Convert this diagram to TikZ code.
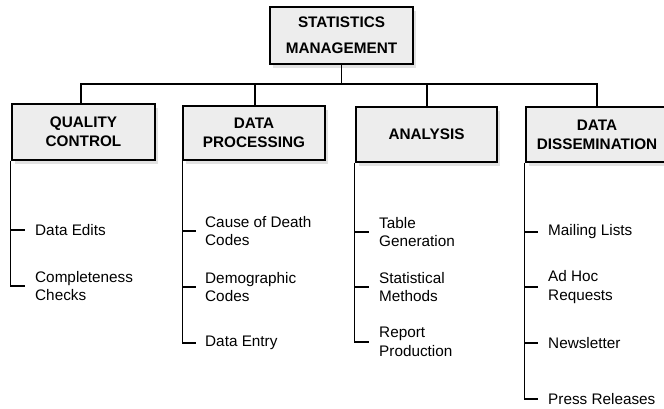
\documentclass[tikz,border=0pt]{standalone}
\usepackage{fontspec}
\setmainfont{Liberation Sans}
\usetikzlibrary{shadows}
\begin{document}
\begin{tikzpicture}[x=1pt,y=-1pt,
  unit/.style={draw=black, line width=1.3pt, fill=black!7,
    font=\bfseries\fontsize{15.3}{19}\selectfont, align=center,
    inner sep=0pt,
    drop shadow={shadow xshift=3pt, shadow yshift=-4pt, fill=black!14, opacity=0.8}},
  item/.style={anchor=west, align=left, inner sep=0pt,
    font=\fontsize{15.3}{18.5}\selectfont},
  link/.style={line width=1.2pt},
  tick/.style={line width=1.1pt}]
\useasboundingbox (0,0) rectangle (664,408);

% head office
\node[unit, minimum width=143pt, minimum height=57pt,
  font=\bfseries\fontsize{15.3}{26}\selectfont] (top) at (341.5,35.5) {\raisebox{-2pt}{STATISTICS}\\\raisebox{-2pt}{MANAGEMENT}};

% divisions
\node[unit, minimum width=143pt, minimum height=56pt] (qc) at (83.5,132) {QUALITY\\CONTROL};
\node[unit, minimum width=142pt, minimum height=54pt] (dp) at (254,133) {DATA\\PROCESSING};
\node[unit, minimum width=141pt, minimum height=55pt] (an) at (426.5,134.5) {ANALYSIS};
\node[unit, minimum width=142pt, minimum height=55pt] (dd) at (597,134.5) {DATA\\DISSEMINATION};

% bus line joining the divisions to the head office
\coordinate (bus) at (341.5,84);
\draw[link] (top.south) -- (bus);
\draw[link] ([xshift=-2.5pt]qc.north) -- ([xshift=-2.5pt]qc.north |- bus) -| (dd.north);
\draw[link] ([xshift=1pt]dp.north) -- ([xshift=1pt]dp.north |- bus);
\draw[link] ([xshift=0.5pt]an.north) -- ([xshift=0.5pt]an.north |- bus);

% tasks of each division
\node[item] (qc1) at (35,230) {Data Edits};
\node[item] (qc2) at (35,286) {Completeness\\Checks};

\node[item] (dp1) at (205,231) {Cause of Death\\Codes};
\node[item] (dp2) at (205,287) {Demographic\\Codes};
\node[item] (dp3) at (205,343) {Data Entry};

\node[item] (an1) at (379,232) {Table\\Generation};
\node[item] (an2) at (379,287) {Statistical\\Methods};
\node[item] (an3) at (379,342) {Report\\Production};

\node[item] (dd1) at (548,232) {Mailing Lists};
\node[item] (dd2) at (548,287) {Ad Hoc\\Requests};
\node[item] (dd3) at (548,343) {Newsletter};
\node[item] (dd4) at (548,399) {Press Releases};

% side rails with ticks
\draw[link] ([xshift=-1pt]qc.south west) |- ([xshift=-10pt]qc2.west);
\draw[tick] ([xshift=-1pt]qc.south west |- qc1.west) -- ([xshift=-10pt]qc1.west);

\draw[link] ([xshift=0.5pt]dp.south west) |- ([xshift=-9pt]dp3.west);
\draw[tick] ([xshift=0.5pt]dp.south west |- dp1.west) -- ([xshift=-9pt]dp1.west);
\draw[tick] ([xshift=0.5pt]dp.south west |- dp2.west) -- ([xshift=-9pt]dp2.west);

\draw[link] ([xshift=-0.5pt]an.south west) |- ([xshift=-10pt]an3.west);
\draw[tick] ([xshift=-0.5pt]an.south west |- an1.west) -- ([xshift=-10pt]an1.west);
\draw[tick] ([xshift=-0.5pt]an.south west |- an2.west) -- ([xshift=-10pt]an2.west);

\draw[link] ([xshift=-0.5pt]dd.south west) |- ([xshift=-10pt]dd4.west);
\draw[tick] ([xshift=-0.5pt]dd.south west |- dd1.west) -- ([xshift=-10pt]dd1.west);
\draw[tick] ([xshift=-0.5pt]dd.south west |- dd2.west) -- ([xshift=-10pt]dd2.west);
\draw[tick] ([xshift=-0.5pt]dd.south west |- dd3.west) -- ([xshift=-10pt]dd3.west);
\end{tikzpicture}
\end{document}
